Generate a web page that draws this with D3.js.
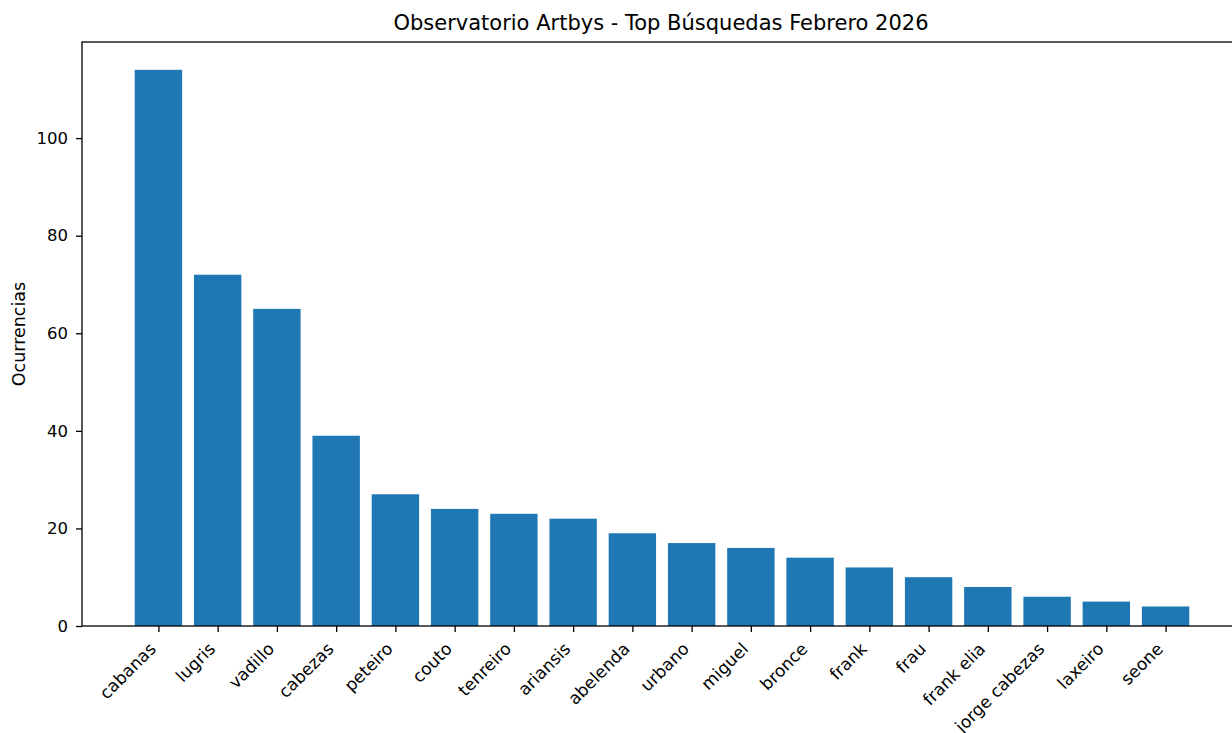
<!DOCTYPE html>
<html>
<head>
<meta charset="utf-8">
<script src="https://cdn.jsdelivr.net/npm/d3@7"></script>
<style>
  body { margin: 0; background: #fff; }
  text { font-family: "DejaVu Sans", sans-serif; fill: #000; }
</style>
</head>
<body>
<div id="chart-area"></div>
<script>
// search terms and counts
var terms = ["cabanas", "lugris", "vadillo", "cabezas", "peteiro", "couto", "tenreiro",
  "ariansis", "abelenda", "urbano", "miguel", "bronce", "frank", "frau",
  "frank elia", "jorge cabezas", "laxeiro", "seone"]
var counts = [114, 72, 65, 39, 27, 24, 23, 22, 19, 17, 16, 14, 12, 10, 8, 6, 5, 4]
var yTicks = [0, 20, 40, 60, 80, 100]

var W = 1232, H = 733
// plot box (right spine falls just outside the picture, like the reference)
var plotL = 82, plotR = 1242, plotT = 42, plotB = 626

var svg = d3.select("#chart-area")
  .append("svg")
  .attr("width", W)
  .attr("height", H)

// matplotlib-like limits: bars of width 0.8, 5% margin
var n = terms.length
var span = (n - 1 + 0.8)
var x = d3.scaleLinear()
  .domain([-0.4 - span * 0.05, n - 1 + 0.4 + span * 0.05])
  .range([plotL, plotR])

var y = d3.scaleLinear()
  .domain([0, d3.max(counts) * 1.05])
  .range([plotB, plotT])

svg.selectAll("rect.bar")
  .data(counts)
  .enter()
  .append("rect")
  .attr("class", "bar")
  .attr("x", function(d, i) { return x(i - 0.4) })
  .attr("width", function(d, i) { return x(i + 0.4) - x(i - 0.4) })
  .attr("y", function(d) { return y(d) })
  .attr("height", function(d) { return y(0) - y(d) })
  .attr("fill", "#1f77b4")

// x axis
var xAxis = svg.append("g")
  .attr("transform", "translate(0," + plotB + ")")
  .call(d3.axisBottom(x).tickValues(d3.range(n)).tickSize(6).tickSizeOuter(0)
    .tickFormat(function(i) { return terms[i] }))
xAxis.select(".domain").remove()
xAxis.selectAll("line").attr("stroke", "#000").attr("stroke-width", 1.3)
xAxis.selectAll("text")
  .attr("font-size", 17)
  .attr("text-anchor", "end")
  .attr("dy", null)
  .attr("y", 0)
  .attr("transform", "translate(-2,24) rotate(-45)")

// y axis
var yAxis = svg.append("g")
  .attr("transform", "translate(" + plotL + ",0)")
  .call(d3.axisLeft(y).tickValues(yTicks).tickSize(6).tickPadding(8))
yAxis.select(".domain").remove()
yAxis.selectAll("line").attr("stroke", "#000").attr("stroke-width", 1.3)
yAxis.selectAll("text").attr("font-size", 16.5)

// spines
svg.append("rect")
  .attr("x", plotL).attr("y", plotT)
  .attr("width", plotR - plotL).attr("height", plotB - plotT)
  .attr("fill", "none").attr("stroke", "#000").attr("stroke-width", 1.3)

svg.append("text")
  .attr("x", 661)
  .attr("y", 30)
  .attr("text-anchor", "middle")
  .attr("font-size", 21)
  .text("Observatorio Artbys - Top Búsquedas Febrero 2026")

svg.append("text")
  .attr("transform", "translate(25," + (plotT + plotB) / 2 + ") rotate(-90)")
  .attr("text-anchor", "middle")
  .attr("font-size", 17.5)
  .text("Ocurrencias")
</script>
</body>
</html>
